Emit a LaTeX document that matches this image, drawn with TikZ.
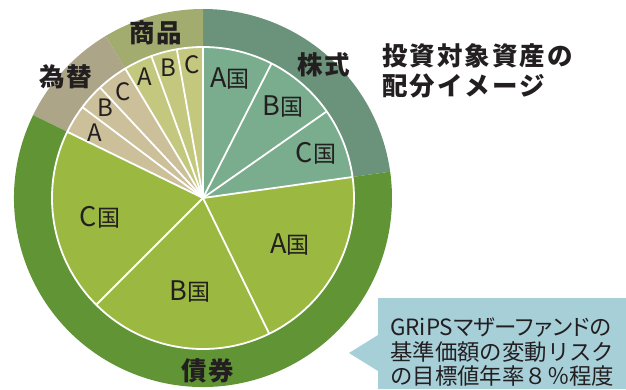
\documentclass[tikz,border=0pt]{standalone}
\usepackage{fontspec}
\setmainfont{Noto Sans CJK JP}
\definecolor{eqO}{HTML}{6B927A}
\definecolor{eqI}{HTML}{7AAC8E}
\definecolor{bdO}{HTML}{609434}
\definecolor{bdI}{HTML}{9BB941}
\definecolor{fxO}{HTML}{ACA588}
\definecolor{fxI}{HTML}{CCC09B}
\definecolor{cmO}{HTML}{A1AC6E}
\definecolor{cmI}{HTML}{C3C87E}
\definecolor{boxblue}{HTML}{A6CFD8}
\definecolor{ink}{HTML}{231F20}
\newcommand\mysector[4]{\fill[#1] (O) -- ++(#2:#4) arc[start angle=#2,end angle=#3,radius=#4] -- cycle;}
\newcommand\kuni[1]{{\fontsize{27}{27}\selectfont #1}{\fontsize{23}{23}\selectfont 国}}
\tikzset{
  catlabel/.style={inner sep=0pt,text=ink,font=\fontsize{25.5}{25.5}\selectfont\bfseries\addfontfeature{LetterSpace=6}},
  slicelabel/.style={inner sep=0pt,text=ink,font=\fontsize{24}{24}\selectfont},
  sepline/.style={white,line width=1.8pt},
  boxtext/.style={inner sep=0pt,anchor=base west,text=ink,font=\fontsize{22.4}{22.4}\selectfont},
  titletext/.style={inner sep=0pt,anchor=base west,text=ink,font=\fontsize{25.5}{25.5}\selectfont\bfseries\addfontfeature{LetterSpace=8}}
}
\begin{document}
\begin{tikzpicture}[x=1pt,y=1pt]
\useasboundingbox (0,0) rectangle (626,389);
\coordinate (O) at (203,191);
% outer ring
\mysector{eqO}{8}{90}{189}
\mysector{cmO}{90}{121}{189}
\mysector{fxO}{121}{154}{189}
\mysector{bdO}{-206}{8}{189}
% inner pie
\mysector{eqI}{8}{90}{151}
\mysector{cmI}{90}{121}{151}
\mysector{fxI}{121}{154}{151}
\mysector{bdI}{-206}{8}{151}
\foreach \a in {8,35,63,90,100,110,121,133,143,154,225,296}
  \draw[sepline] (O) -- ++(\a:151);
\draw[sepline] (O) circle[radius=151];
% category labels
\node[catlabel] (lEq) at (324,324) {株式};
\node[catlabel] (lCm) at (156,356) {商品};
\node[catlabel] (lFx) at (66,312) {為替};
\node[catlabel] (lBd) at (208,18) {債券};
% slice labels
\node[slicelabel] (eqA) at (230,310) {\kuni{A}};
\node[slicelabel] (eqB) at (283,282) {\kuni{B}};
\node[slicelabel] (eqC) at (316,236) {\kuni{C}};
\node[slicelabel] (bdA) at (290,144) {\kuni{A}};
\node[slicelabel] (bdB) at (190,97) {\kuni{B}};
\node[slicelabel] (bdC) at (100,172) {\kuni{C}};
\node[slicelabel] (fxA) at (95,256) {A};
\node[slicelabel] (fxB) at (105,281) {B};
\node[slicelabel] (fxC) at (123,297) {C};
\node[slicelabel] (cmA) at (145,312) {A};
\node[slicelabel] (cmB) at (168,321) {B};
\node[slicelabel] (cmC) at (192,324) {C};
% title
\node[titletext] (t1) at (382,323) {投資対象資産の};
\node[titletext] (t2) at (382,293) {配分イメージ};
% callout
\fill[boxblue] (349,36) -- (378,54) -- (378,91) -- (626,91) -- (626,0) -- (378,0) -- (378,18) -- cycle;
\node[boxtext] (b1) at (390,54) {GRiPS{\addfontfeature{RawFeature=+palt}マザーファンドの}};
\node[boxtext] (b2) at (390,29) {基準価額の変動リスク};
\node[boxtext] (b3) at (390,5) {の目標値年率８％程度};
\end{tikzpicture}
\end{document}
